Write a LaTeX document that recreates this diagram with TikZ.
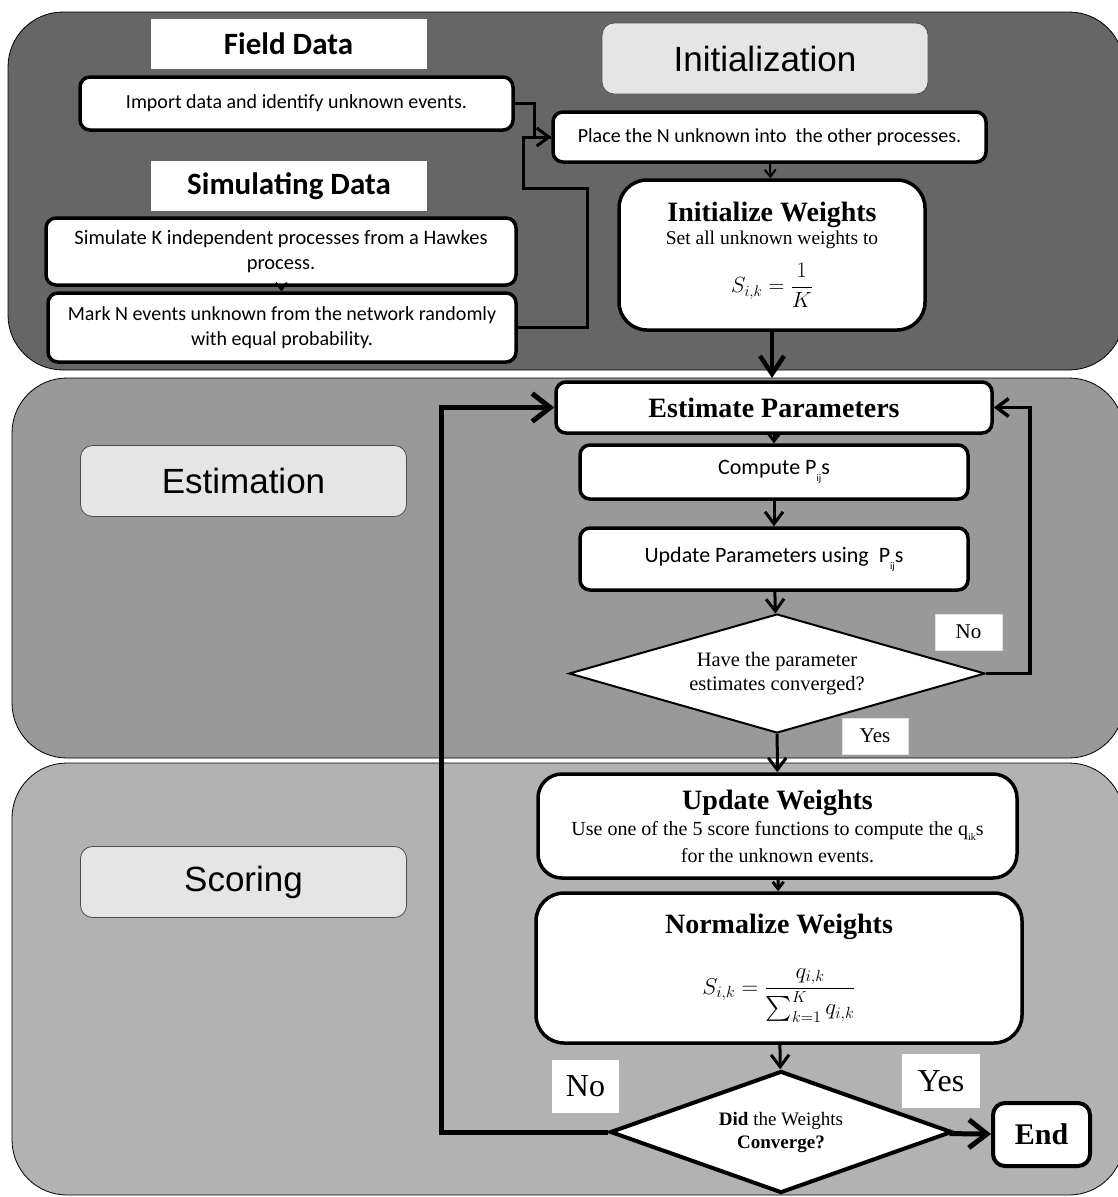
\RequirePackage{fix-cm}
\documentclass[tikz,border=0pt]{standalone}
\usepackage{amsmath}
\usepackage{fontspec}
\setmainfont{Liberation Serif}
\newfontfamily\calibrifont{Carlito}
\newfontfamily\arialfont{Liberation Sans}
\usetikzlibrary{shapes.geometric,arrows.meta}

\newcommand{\fsz}[2]{\fontsize{#1}{#2}\selectfont}
\newcommand{\subij}{\raisebox{-7pt}{\fsz{10}{10}ij}}
\newcommand{\subik}{\raisebox{-5pt}{\fsz{10}{10}ik}}

\begin{document}
\begin{tikzpicture}[x=1pt, y=-1pt,
        node distance=64.5pt,
        band/.style={draw=black, line width=0.8pt, rounded corners=55pt},
        tag/.style={draw=black!70, line width=0.8pt, fill=black!10, rounded corners=12pt,
            font=\arialfont\fsz{35}{40}, minimum width=326pt, minimum height=71pt},
        heading/.style={fill=white, font=\calibrifont\bfseries\fsz{31}{36},
            minimum width=276pt, minimum height=50pt},
        box/.style={draw, fill=white, line width=3.5pt, rounded corners=10pt, inner sep=0pt,
            align=center, font=\calibrifont\fsz{20}{25}},
        bigbox/.style={box, rounded corners=28pt, font=\fsz{19.5}{23}},
        decision/.style={draw, diamond, fill=white, inner sep=0pt, align=center, font=\fsz{20.5}{24}},
        answer/.style={draw=black!12, fill=white, line width=1pt, inner sep=0pt},
        link/.style={line width=3pt},
        arrow/.style={link, -{Straight Barb[length=12pt, width=18pt]}},
        bigarrow/.style={line width=5pt, -{Straight Barb[length=18pt, width=28pt]}},
        tiparrow/.style={line width=2pt, -{Straight Barb[length=7pt, width=11pt]}}
    ]
    \useasboundingbox (0,0) rectangle (1118,1197);
    \clip (0,0) rectangle (1118,1197);
    \fill[white] (0,0) rectangle (1118,1197);

    % the three stages
    \draw[band, fill=black!60] (8,12) rectangle (1124,370);
    \draw[band, fill=black!40] (12,378) rectangle (1124,758);
    \draw[band, fill=black!30] (12,763) rectangle (1124,1195);

    \node[tag] (initlbl) at (765,58.5) {Initialization};
    \node[tag] (estlbl) at (243.5,481) {Estimation};
    \node[tag] (scorlbl) at (243.5,882) {Scoring};

    % initialization
    \node[heading] (fieldlbl) at (288.5,44) {Field Data};
    \node[box, minimum width=433pt, minimum height=53pt] (import) at (296.5,103.5)
        {Import data and identify unknown events.};
    \node[heading] (simlbl) at (289,186) {Simulating Data};
    \node[box, minimum width=470pt, minimum height=67pt, font=\calibrifont\fsz{20.5}{25}] (simulate) at (281,251.5)
        {Simulate K independent processes from a Hawkes\\process.};
    \node[box, minimum width=468pt, minimum height=69pt] (mark) at (282,327.5)
        {Mark N events unknown from the network randomly\\with equal probability.};
    \node[box, minimum width=433pt, minimum height=50pt] (place) at (769.5,137)
        {Place the N unknown into\ \ the other processes.};
    \node[bigbox, minimum width=306pt, minimum height=150pt] (initw) at (772,255)
        {{\bfseries\fsz{28}{30}Initialize Weights}\\Set all unknown weights to\\[14pt]
         {\fsz{22}{26}$S_{i,k}=\dfrac{1}{K}$}};

    \draw[tiparrow] (simulate) -- (mark);
    \draw[link] (import.east) -- ++(20,0) |- (place.west);
    \draw[arrow] (mark.east) -- ++(70,0) -- ++(0,-139.5) -- ++(-64,0) |- (place.west);
    \draw[tiparrow] (place) -- (initw);
    \draw[line width=4.5pt, -{Straight Barb[length=18pt, width=24pt]}] (initw) -- (772,378) coordinate (estin);

    % estimation
    \node[box, minimum width=436pt, minimum height=51pt, font=\bfseries\fsz{28}{30}] (estpar) at (774,407.5)
        {Estimate Parameters};
    \node[box, below of=estpar, minimum width=388pt, minimum height=54pt, font=\calibrifont\fsz{22}{26}] (compute)
        {Compute P\subij s};
    \node[box, below of=compute, yshift=-22.5pt, minimum width=388pt, minimum height=62pt, font=\calibrifont\fsz{22}{26}] (updpar)
        {Update Parameters using\ \ P\subij s};
    \node[decision, line width=2pt, shape aspect=3.5, minimum width=416pt, minimum height=119pt] (conv) at (777,673.5)
        {Have the parameter\\estimates converged?};
    \node[answer, minimum width=67pt, minimum height=36pt, font=\fsz{21}{24}] (nomid) at (968.5,632) {No};
    \node[answer, minimum width=66pt, minimum height=36pt, font=\fsz{21}{24}] (yesmid) at (875,736) {Yes};

    \draw[tiparrow, line width=3pt] (estpar) -- (compute);
    \draw[arrow] (compute) -- (updpar);
    \draw[arrow] (updpar) -- (conv);
    \draw[arrow, line width=3.5pt] (conv.east) -- ++(44,0) |- (estpar.east);

    % scoring
    \node[bigbox, rounded corners=24pt, minimum width=479pt, minimum height=104pt, font=\fsz{20}{24}] (updw) at (777.5,826)
        {{\bfseries\fsz{28}{30}Update Weights}\\[2pt]Use one of the 5 score functions to compute the q\subik s\\[3pt]for the unknown events.};
    \node[bigbox, minimum width=486pt, minimum height=150pt] (normw) at (779,968)
        {{\bfseries\fsz{28}{30}Normalize Weights}\\[28pt]
         {\fsz{23}{27}$S_{i,k}=\dfrac{q_{i,k}}{\sum_{k=1}^{K} q_{i,k}}$}};
    \node[decision, line width=4pt, shape aspect=2.8, minimum width=342pt, minimum height=122pt, font=\fsz{19}{23}] (done) at (781,1132)
        {\textbf{Did} the Weights\\\textbf{Converge?}};
    \node[answer, draw=none, minimum width=67pt, minimum height=53pt, font=\fsz{32}{36}] (nobot) at (585.5,1086.5) {No};
    \node[answer, draw=none, minimum width=78pt, minimum height=54pt, font=\fsz{32}{36}] (yesbot) at (941,1081) {Yes};
    \node[box, line width=4pt, rounded corners=12pt, minimum width=97pt, minimum height=63pt,
        font=\bfseries\fsz{30}{34}] (endbox) at (1041.5,1134.5) {End};

    \draw[arrow] (conv) -- (updw);
    \draw[tiparrow, line width=3pt] (updw) -- (normw);
    \draw[arrow] (normw) -- (done);
    \draw[bigarrow] (done) -- (endbox);
    \draw[bigarrow] (done.west) -- ++(-167,0) |- (estpar.west);
\end{tikzpicture}
\end{document}
